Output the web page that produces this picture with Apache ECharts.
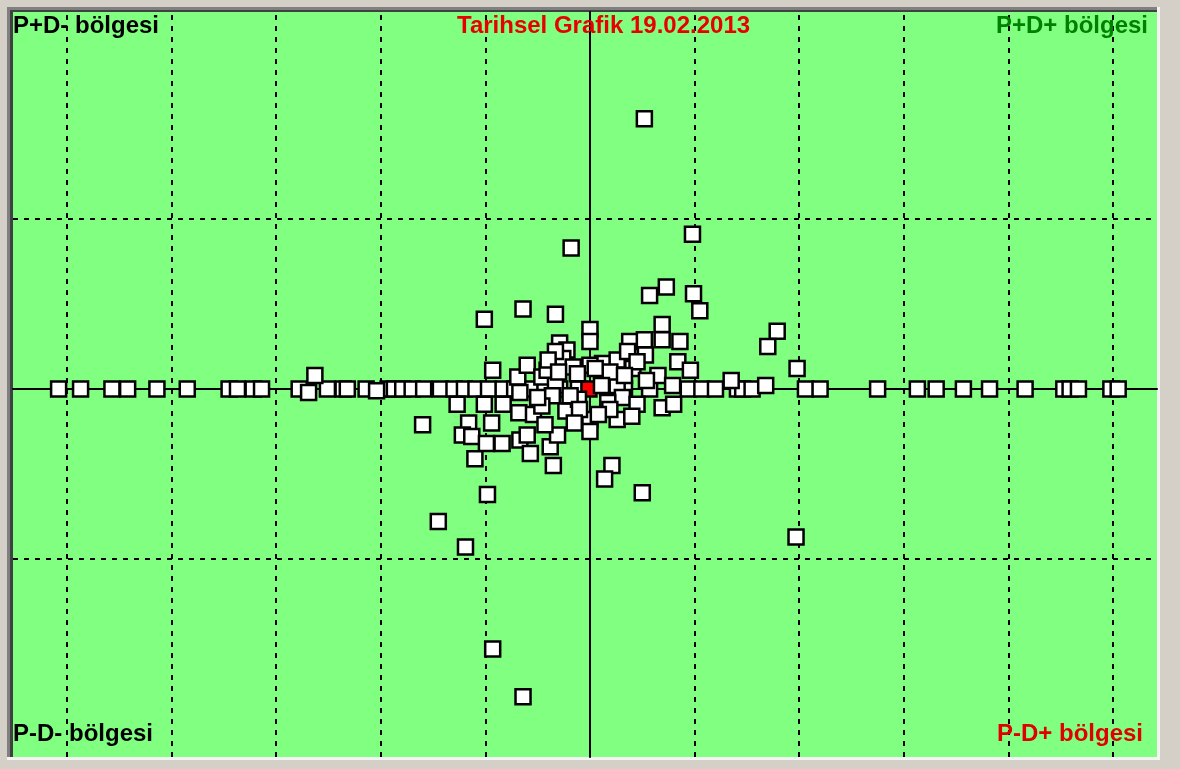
<!DOCTYPE html>
<html>
<head>
<meta charset="utf-8">
<title>Tarihsel Grafik</title>
<script src="https://cdn.jsdelivr.net/npm/echarts@6/dist/echarts.min.js"></script>
<style>
html, body { margin: 0; padding: 0; background: #d4d0c8; }
#chart { width: 1180px; height: 769px; }
</style>
</head>
<body>
<div id="chart"></div>
<script>
// eksen aralığı (ızgara birimi)
const xMin = -5.516, xMax = 5.421;
const yMin = -2.165, yMax = 2.218;
const xGridLines = [-5, -4, -3, -2, -1, 1, 2, 3, 4, 5];
const yGridLines = [-1, 1];

// yatay eksen üzerindeki noktalar (y = 0)
const axisRowX = [
    -5.08, -4.87, -4.57, -4.42, -4.14, -3.85, -3.45, -3.37, -3.22, -3.14,
    -2.78, -2.51, -2.36, -2.32, -2.14, -1.93, -1.87, -1.79, -1.70, -1.59,
    -1.43, -1.30, -1.20, -1.09, -0.97, -0.83, -0.72, -0.57, -0.43, -0.29,
    -0.11, 0.19, 0.33, 0.57, 0.94, 1.07, 1.20, 1.41, 1.46, 1.55,
    2.06, 2.20, 2.75, 3.13, 3.31, 3.57, 3.82, 4.16, 4.53, 4.59,
    4.67, 4.98, 5.05
];

// eksen dışındaki noktalar
const clusterX = [
    0.52, 0.98, -0.18, 0.73, 0.57, 0.99, 1.05, -0.64, -0.33, -1.01,
    1.79, 1.70, 1.98, 0.00, 0.00, 0.69, 0.69, 0.38, 0.52, 0.86,
    -0.29, -0.22, -0.26, 0.53, 0.12, 0.26, 0.00, -0.16, 0.41, 0.84,
    0.96, 0.65, 0.54, 0.26, 0.79, -0.93, -0.69, -0.60, -0.46, -0.33,
    1.35, 1.68, -2.63, -0.41, 0.19, -0.12, -2.04, -0.33, -0.40, 0.36,
    0.45, -0.30, 0.05, 0.33,
    -2.69, -0.36, -0.67, 0.31, 0.45, 0.69, 0.80, -0.23, 0.00, 0.00,
    0.26, 0.40, -1.27, -1.01, -0.83, -0.68, -0.54, -0.46, -1.60, -1.16,
    -0.94, -1.22, -1.13, -0.99, -0.84, -0.67, -0.60, -0.57, -1.10, -0.38,
    -0.35, -0.31, 0.21, 0.14, 0.50, -0.98, -1.45, -1.19, 1.97, -0.93,
    -0.64, -0.11, 0.17, -0.19, -0.43, 0.19, -0.10, -0.15, 0.08, -0.50,
    0.11
];
const clusterY = [
    1.59, 0.91, 0.83, 0.60, 0.55, 0.56, 0.46, 0.47, 0.44, 0.41,
    0.34, 0.25, 0.12, 0.35, 0.28, 0.38, 0.29, 0.28, 0.29, 0.28,
    0.27, 0.23, 0.18, 0.20, 0.15, 0.17, 0.14, 0.13, 0.12, 0.16,
    0.11, 0.08, 0.05, 0.02, 0.02, 0.11, 0.07, 0.14, 0.07, 0.02,
    0.05, 0.02, 0.08, 0.11, 0.10, 0.09, -0.01, 0.22, 0.17, 0.22,
    0.16, 0.10, 0.12, 0.08,
    -0.02, -0.04, -0.02, -0.05, -0.09, -0.11, -0.09, -0.13, -0.18, -0.25,
    -0.18, -0.16, -0.09, -0.09, -0.09, -0.14, -0.15, -0.10, -0.21, -0.20,
    -0.20, -0.27, -0.28, -0.32, -0.32, -0.30, -0.27, -0.38, -0.41, -0.34,
    -0.45, -0.27, -0.45, -0.53, -0.61, -0.62, -0.78, -0.93, -0.87, -1.53,
    -1.81, -0.06, -0.08, -0.04, -0.21, -0.12, -0.12, -0.20, -0.15, -0.05,
    0.02
];

// bugünkü nokta (kırmızı)
const currentPoint = [-0.01, 0.0];

const titleText = 'Tarihsel Grafik 19.02.2013';
const regionLabels = ['P+D- bölgesi', 'P+D+ bölgesi', 'P-D- bölgesi', 'P-D+ bölgesi'];

const axisPoints = axisRowX.map(x => [x, 0]);
const clusterPoints = clusterX.map((x, i) => [x, clusterY[i]]);

const font = 'Liberation Sans, Arial, sans-serif';
const labelStyle = (color) => ({
    color: color,
    fontSize: 24,
    fontWeight: 'bold',
    fontFamily: font
});
const squareStyle = (fill) => ({
    color: fill,
    borderColor: '#000',
    borderWidth: 2.5,
    opacity: 1
});

const myChart = echarts.init(document.getElementById('chart'), null, {
    width: 1180,
    height: 769,
    renderer: 'canvas'
});

const option = {
    animation: false,
    backgroundColor: '#d4d0c8',
    title: [
        { text: regionLabels[0], left: 13, top: 14, padding: 0, textStyle: labelStyle('#000000') },
        { text: titleText, left: 457, top: 14, padding: 0, textStyle: labelStyle('#e80000') },
        { text: regionLabels[1], right: 32, top: 14, padding: 0, textStyle: labelStyle('#008000') },
        { text: regionLabels[2], left: 13, bottom: 23, padding: 0, textStyle: labelStyle('#000000') },
        { text: regionLabels[3], right: 37, bottom: 23, padding: 0, textStyle: labelStyle('#e00000') }
    ],
    graphic: [
        // çökük panel kenarı
        { type: 'rect', z: -1, shape: { x: 7, y: 7, width: 1151, height: 5 }, style: { fill: '#808080' } },
        { type: 'rect', z: -1, shape: { x: 7, y: 7, width: 6, height: 751 }, style: { fill: '#808080' } },
        { type: 'rect', z: -1, shape: { x: 10, y: 10, width: 1147, height: 2 }, style: { fill: '#404040' } },
        { type: 'rect', z: -1, shape: { x: 10, y: 10, width: 3, height: 747 }, style: { fill: '#404040' } },
        { type: 'rect', z: -1, shape: { x: 1157, y: 7, width: 3, height: 753 }, style: { fill: '#f4f4f4' } },
        { type: 'rect', z: -1, shape: { x: 7, y: 757, width: 1153, height: 3 }, style: { fill: '#f4f4f4' } }
    ],
    grid: {
        left: 13,
        right: 23,
        top: 12,
        bottom: 12,
        show: true,
        backgroundColor: '#80ff80',
        borderWidth: 0
    },
    xAxis: {
        type: 'value',
        min: xMin,
        max: xMax,
        axisLine: { onZero: true, lineStyle: { color: '#000', width: 2 } },
        axisTick: { show: false },
        axisLabel: { show: false },
        splitLine: { show: false }
    },
    yAxis: {
        type: 'value',
        min: yMin,
        max: yMax,
        axisLine: { onZero: true, lineStyle: { color: '#000', width: 2 } },
        axisTick: { show: false },
        axisLabel: { show: false },
        splitLine: { show: false }
    },
    series: [
        {
            name: 'izgara',
            type: 'scatter',
            z: 1,
            data: [],
            markLine: {
                silent: true,
                z: 1,
                symbol: ['none', 'none'],
                label: { show: false },
                lineStyle: { color: '#000', type: [5, 6], width: 2 },
                data: xGridLines.map(v => ({ xAxis: v }))
                    .concat(yGridLines.map(v => ({ yAxis: v })))
            }
        },
        {
            name: 'eksen',
            type: 'scatter',
            z: 7,
            symbol: 'rect',
            symbolSize: 15,
            itemStyle: squareStyle('#ffffff'),
            data: axisPoints
        },
        {
            name: 'bugün',
            type: 'scatter',
            z: 8,
            symbol: 'rect',
            symbolSize: 15,
            itemStyle: squareStyle('#ff0000'),
            data: [currentPoint]
        },
        {
            name: 'geçmiş',
            type: 'scatter',
            z: 9,
            symbol: 'rect',
            symbolSize: 15,
            itemStyle: squareStyle('#ffffff'),
            data: clusterPoints
        }
    ]
};

myChart.setOption(option);
</script>
</body>
</html>
